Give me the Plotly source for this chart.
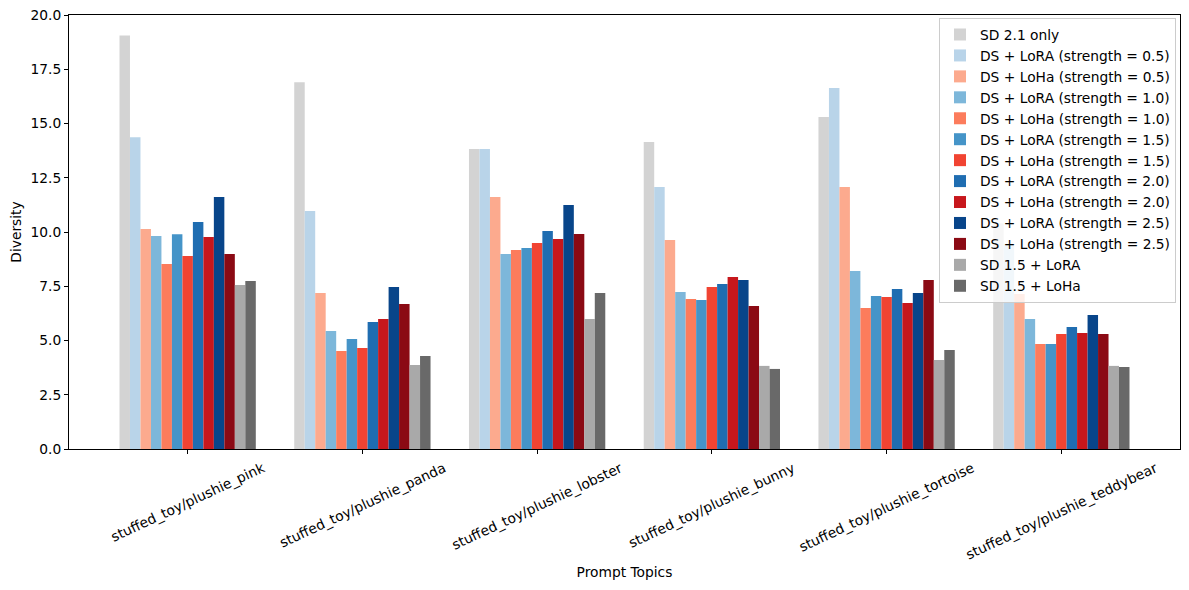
import plotly.graph_objects as go

categories = [
    "stuffed_toy/plushie_pink",
    "stuffed_toy/plushie_panda",
    "stuffed_toy/plushie_lobster",
    "stuffed_toy/plushie_bunny",
    "stuffed_toy/plushie_tortoise",
    "stuffed_toy/plushie_teddybear",
]

sd21_only = [19.05, 16.9, 13.82, 14.15, 15.3, 10.4]
lora_05 = [14.37, 10.97, 13.82, 12.07, 16.64, 9.44]
loha_05 = [10.14, 7.19, 11.61, 9.63, 12.07, 7.14]
lora_10 = [9.82, 5.44, 8.99, 7.23, 8.2, 5.99]
loha_10 = [8.53, 4.52, 9.17, 6.91, 6.5, 4.84]
lora_15 = [9.9, 5.07, 9.26, 6.87, 7.05, 4.84]
loha_15 = [8.89, 4.65, 9.49, 7.46, 7.0, 5.3]
lora_20 = [10.46, 5.85, 10.05, 7.6, 7.37, 5.62]
loha_20 = [9.77, 5.99, 9.68, 7.93, 6.73, 5.35]
lora_25 = [11.61, 7.46, 11.24, 7.79, 7.19, 6.17]
loha_25 = [8.99, 6.68, 9.91, 6.59, 7.79, 5.3]
sd15_lora = [7.56, 3.87, 5.99, 3.83, 4.1, 3.83]
sd15_loha = [7.74, 4.29, 7.19, 3.69, 4.56, 3.78]

series_names = [
    "SD 2.1 only",
    "DS + LoRA (strength = 0.5)",
    "DS + LoHa (strength = 0.5)",
    "DS + LoRA (strength = 1.0)",
    "DS + LoHa (strength = 1.0)",
    "DS + LoRA (strength = 1.5)",
    "DS + LoHa (strength = 1.5)",
    "DS + LoRA (strength = 2.0)",
    "DS + LoHa (strength = 2.0)",
    "DS + LoRA (strength = 2.5)",
    "DS + LoHa (strength = 2.5)",
    "SD 1.5 + LoRA",
    "SD 1.5 + LoHa",
]
series_values = [sd21_only, lora_05, loha_05, lora_10, loha_10, lora_15, loha_15,
                 lora_20, loha_20, lora_25, loha_25, sd15_lora, sd15_loha]
series_colors = [
    "#d3d3d3",
    "#b9d4e9", "#fcaa8e",
    "#7db7da", "#fc7c5c",
    "#4594c8", "#f14432",
    "#1f6db1", "#c7171c",
    "#08458a", "#8b0a14",
    "#a9a9a9", "#696969",
]

FONT = "DejaVu Sans"
FS = 13.8

fig = go.Figure()
for name, vals, col in zip(series_names, series_values, series_colors):
    fig.add_trace(go.Bar(
        x=categories, y=vals, name=name,
        marker=dict(color=col, line=dict(width=0)),
        legendgroup=name,
    ))

annotations = []
for c in categories:
    annotations.append(dict(
        x=c, y=0, xref="x", yref="y", text=c, showarrow=False,
        textangle=-25, xanchor="center", yanchor="top", yshift=-8,
        font=dict(family=FONT, size=FS, color="black"),
    ))

fig.update_layout(
    width=1181, height=582,
    margin=dict(l=61, r=9, t=7, b=141),
    paper_bgcolor="white", plot_bgcolor="white",
    font=dict(family=FONT, size=FS, color="black"),
    barmode="group", bargap=0.22, bargroupgap=0,
    showlegend=True,
    legend=dict(
        x=0.9964, y=0.993, xanchor="right", yanchor="top",
        xref="paper", yref="paper",
        bgcolor="rgba(255,255,255,0.8)", bordercolor="#cccccc", borderwidth=1,
        font=dict(family=FONT, size=FS, color="black"),
        tracegroupgap=3, traceorder="normal",
    ),
    annotations=annotations,
)
fig.update_xaxes(
    range=[-0.679, 5.679], showticklabels=False, automargin=False,
    ticks="outside", ticklen=4, tickcolor="black", tickwidth=1,
    showline=True, linecolor="black", linewidth=1, mirror=True,
    showgrid=False, zeroline=False,
    title=dict(text="Prompt Topics", font=dict(family=FONT, size=FS), standoff=114),
)
fig.update_yaxes(
    range=[0, 20], tickmode="linear", tick0=0, dtick=2.5, tickformat=".1f",
    ticks="outside", ticklen=4, tickcolor="black", tickwidth=1,
    showline=True, linecolor="black", linewidth=1, mirror=True,
    showgrid=False, zeroline=False, ticklabeloverflow="allow", automargin=False,
    tickfont=dict(family=FONT, size=FS),
    title=dict(text="Diversity", font=dict(family=FONT, size=FS), standoff=5),
)

fig.write_html("out.html")
